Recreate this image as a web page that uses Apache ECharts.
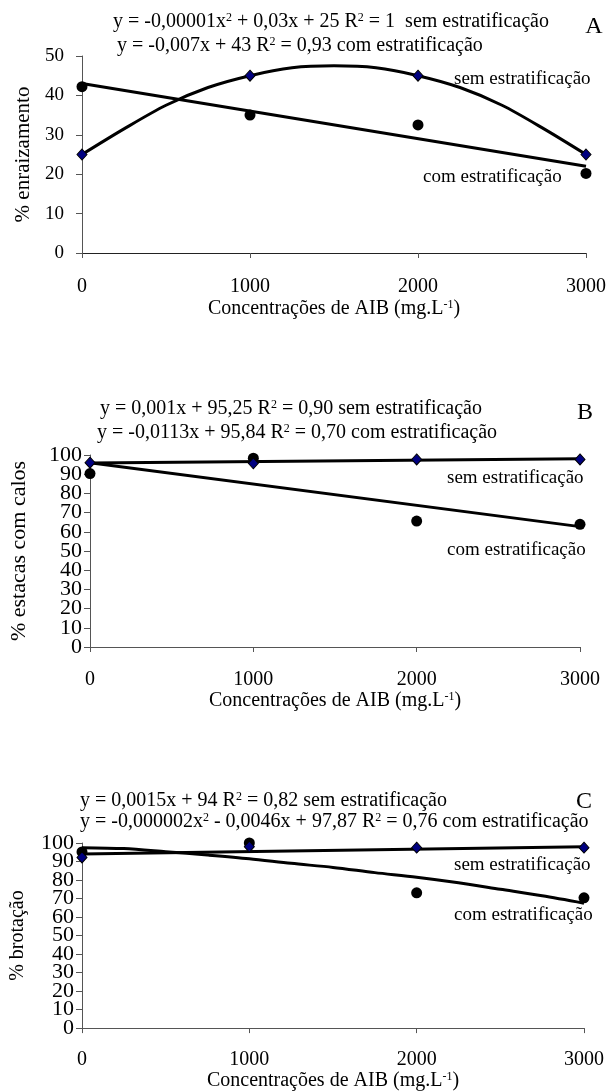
<!DOCTYPE html>
<html>
<head>
<meta charset="utf-8">
<script src="https://cdn.jsdelivr.net/npm/echarts@6/dist/echarts.min.js"></script>
<style>
html,body{margin:0;padding:0;background:#fff;}
#chart{width:609px;height:1092px;}
</style>
</head>
<body>
<div id="chart"></div>
<script>
// ---- data ----
const concentrations = [0, 1000, 2000, 3000];

// Panel A: % enraizamento
const aSemPoints = [25, 45, 45, 25];
const aComPoints = [42.2, 35, 32.5, 20.2];
const curveX = [0, 250, 500, 750, 1000, 1250, 1500, 1750, 2000, 2250, 2500, 2750, 3000];
const aSemTrend = [25, 31.5, 37.5, 42, 45, 47, 47.5, 47, 45, 42, 37.5, 31.5, 25];
const lineX = [0, 3000];
const aComTrend = [43, 22];

// Panel B: % estacas com calos
const bSemPoints = [96, 95.7, 97.7, 97.7];
const bComPoints = [90.3, 98.3, 65.6, 63.9];
const bSemTrend = [95.8, 98.1];
const bComTrend = [96, 62.7];

// Panel C: % brotação
const cSemPoints = [92.2, 98, 97.5, 97.5];
const cComPoints = [95.2, 100, 73.1, 70.4];
const cSemTrend = [94, 98];
const cComTrend = [97.5, 97, 95.3, 93.5, 91.5, 89, 86.8, 84, 81.5, 78.5, 75, 71.5, 67.5];

const yTitles = ['% enraizamento', '% estacas com calos', '% brotação'];
const xTitle = 'Concentrações de AIB (mg.L{sup|-1})';
const equations = [
  ['y = -0,00001x{sup|2} + 0,03x + 25 R{sup|2} = 1  sem estratificação', 'y = -0,007x + 43 R{sup|2} = 0,93 com estratificação'],
  ['y = 0,001x + 95,25 R{sup|2} = 0,90 sem estratificação', 'y = -0,0113x + 95,84 R{sup|2} = 0,70 com estratificação'],
  ['y = 0,0015x + 94 R{sup|2} = 0,82 sem estratificação', 'y = -0,000002x{sup|2} - 0,0046x + 97,87 R{sup|2} = 0,76 com estratificação']
];
const panelLetters = ['A', 'B', 'C'];
const semLabel = 'sem estratificação';
const comLabel = 'com estratificação';

// ---- helpers ----
const FONT = '"Liberation Serif", "Times New Roman", serif';
const zip = (xs, ys) => xs.map((x, i) => [x, ys[i]]);
const supRich = { sup: { fontSize: 12, fontFamily: FONT, verticalAlign: 'top', lineHeight: 12, color: '#000' } };

const grids = [
  { left: 82, top: 56, width: 504, height: 197 },
  { left: 88, top: 455, width: 492, height: 192 },
  { left: 78, top: 843, width: 506, height: 186 }
];
const yMax = [50, 100, 100];
const yInterval = [10, 10, 10];
const yLabelSize = [19, 22, 22];
const yLabelMargin = [18, 8, 8];
const yNameGap = [48, 60, 54];
const yNameSize = [21, 22, 20];
const xNameGap = [46, 40, 38];
const xLabelMargin = [24, 23, 22];
const xAxisColor = ['#222', '#555', '#555'];

const xAxes = grids.map((g, i) => ({
  gridIndex: i, type: 'value', min: 0, max: 3000, interval: 1000,
  axisLine: { show: true, onZero: false, lineStyle: { color: xAxisColor[i], width: 1 } },
  axisTick: { show: true, length: 5, lineStyle: { color: '#555' } },
  axisLabel: { fontFamily: FONT, fontSize: 20, color: '#000', margin: xLabelMargin[i],
    formatter: v => String(v), showMinLabel: true, showMaxLabel: true, hideOverlap: false },
  splitLine: { show: false },
  name: xTitle, nameLocation: 'middle', nameGap: xNameGap[i],
  nameTextStyle: { fontFamily: FONT, fontSize: 20, color: '#000', rich: supRich }
}));

// main y axes (inner tick labels) — indices 0..2
const yAxes = grids.map((g, i) => ({
  gridIndex: i, type: 'value', position: 'left', offset: 0, min: 0, max: yMax[i], interval: yInterval[i],
  axisLine: { show: true, onZero: false, lineStyle: { color: '#555', width: 1 } },
  axisTick: { show: true, length: 6, lineStyle: { color: '#555' } },
  axisLabel: { fontFamily: FONT, fontSize: yLabelSize[i], color: '#000', margin: yLabelMargin[i],
    formatter: v => String(v), showMinLabel: false, showMaxLabel: false, hideOverlap: false },
  splitLine: { show: false },
  name: yTitles[i], nameLocation: 'middle', nameRotate: 90, nameGap: yNameGap[i],
  nameTextStyle: { fontFamily: FONT, fontSize: yNameSize[i], color: '#000' }
}));
// companion y axes for the end labels (min and max) — indices 3..5
grids.forEach((g, i) => {
  yAxes.push({
    gridIndex: i, type: 'value', position: 'left', offset: 0, min: 0, max: yMax[i], interval: yMax[i],
    axisLine: { show: false, onZero: false },
    axisTick: { show: true, length: 6, lineStyle: { color: '#555' } },
    axisLabel: { fontFamily: FONT, fontSize: yLabelSize[i], color: '#000', margin: yLabelMargin[i],
      formatter: v => String(v), showMinLabel: true, showMaxLabel: true, hideOverlap: false },
    splitLine: { show: false }
  });
});

function trend(i, xs, ys, smooth) {
  return { type: 'line', xAxisIndex: i, yAxisIndex: i, data: zip(xs, ys), smooth: smooth ? 0.3 : false,
    showSymbol: false, symbol: 'none', lineStyle: { color: '#000', width: 3 }, z: 2, silent: true, clip: false };
}
function diamonds(i, ys) {
  return { type: 'scatter', xAxisIndex: i, yAxisIndex: i, data: zip(concentrations, ys), symbol: 'diamond',
    symbolSize: [10, 11], itemStyle: { color: '#000080', borderColor: '#000', borderWidth: 1, opacity: 1 }, z: 4, clip: false };
}
function circles(i, ys) {
  return { type: 'scatter', xAxisIndex: i, yAxisIndex: i, data: zip(concentrations, ys), symbol: 'circle',
    symbolSize: 11, itemStyle: { color: '#000', opacity: 1 }, z: 3, clip: false };
}

const series = [
  trend(0, curveX, aSemTrend, true), trend(0, lineX, aComTrend, false),
  circles(0, aComPoints), diamonds(0, aSemPoints),
  trend(1, lineX, bSemTrend, false), trend(1, lineX, bComTrend, false),
  circles(1, bComPoints), diamonds(1, bSemPoints),
  trend(2, lineX, cSemTrend, false), trend(2, curveX, cComTrend, true),
  circles(2, cComPoints), diamonds(2, cSemPoints)
];

// text positions
const eqPos = [
  [[113, 22], [117, 46]],
  [[100, 409], [97, 433]],
  [[80, 801], [80, 822]]
];
const letterPos = [[594, 27], [585, 413], [584, 802]];
const semPos = [[454, 79], [447, 478], [454, 865]];
const comPos = [[423, 177], [447, 550], [454, 915]];

function txt(text, x, y, size, align) {
  return { type: 'text', x: x, y: y, silent: true, z: 10,
    style: { text: text, fill: '#000', font: size + 'px ' + FONT, align: align || 'left', verticalAlign: 'middle', rich: supRich } };
}
const graphic = [];
for (let i = 0; i < 3; i++) {
  graphic.push(txt(equations[i][0], eqPos[i][0][0], eqPos[i][0][1], 20));
  graphic.push(txt(equations[i][1], eqPos[i][1][0], eqPos[i][1][1], 20));
  graphic.push(txt(panelLetters[i], letterPos[i][0], letterPos[i][1], 24, 'center'));
  graphic.push(txt(semLabel, semPos[i][0], semPos[i][1], 19));
  graphic.push(txt(comLabel, comPos[i][0], comPos[i][1], 19));
}

const chart = echarts.init(document.getElementById('chart'), null, { renderer: 'canvas' });
chart.setOption({
  backgroundColor: '#fff',
  animation: false,
  grid: grids,
  xAxis: xAxes,
  yAxis: yAxes,
  series: series,
  graphic: graphic
});
</script>
</body>
</html>
